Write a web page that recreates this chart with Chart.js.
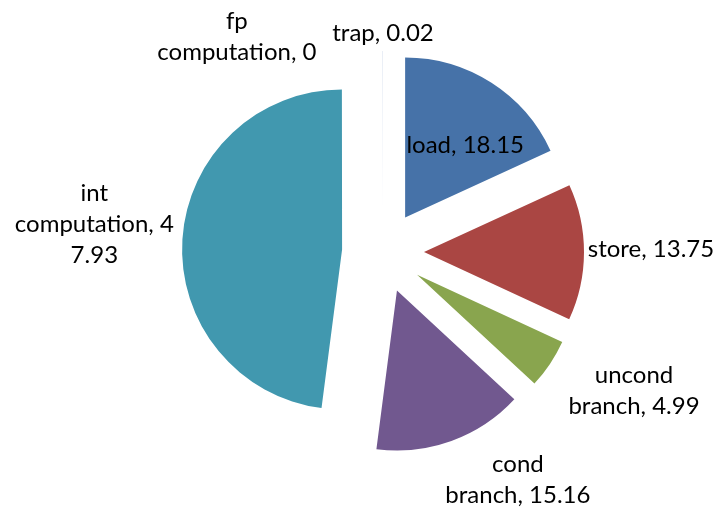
<!DOCTYPE html>
<html>
<head>
<meta charset="utf-8">
<script src="https://cdn.jsdelivr.net/npm/chart.js@4"></script>
<style>
    html, body { margin: 0; padding: 0; background: #fff; }
    #wrap { width: 719px; height: 510px; }
</style>
</head>
<body>
<div id="wrap"><canvas id="chart"></canvas></div>
<script>
const categories = ['load', 'store', 'uncond branch', 'cond branch', 'int computation', 'fp computation', 'trap']
const values = [18.15, 13.75, 4.99, 15.16, 47.93, 0, 0.02]
const colors = ['#4672A8', '#AA4643', '#89A54E', '#71588F', '#4198AF', '#DB843D', '#93A9CF']

// label lines, wrapped the way the original shows them
const labelLines = [
    ['load, 18.15'],
    ['store, 13.75'],
    ['uncond', 'branch, 4.99'],
    ['cond', 'branch, 15.16'],
    ['int', 'computation, 4', '7.93'],
    ['fp', 'computation, 0'],
    ['trap, 0.02'],
]
// where each label sits: [degrees clockwise from top, distance from pie centre]
const labelPlacement = [[37.5, 135], [89.4, 268], [119, 287], [149.4, 265], [275.5, 290], [325.8, 260], [0, 219]]

const EXPLODE = 41
const LINE_H = 31

// pull every slice out from the centre by a fixed distance
const explode = {
    id: 'explode',
    afterDatasetUpdate(chart, args) {
        args.meta.data.forEach(arc => {
            const mid = (arc.startAngle + arc.endAngle) / 2
            arc.x += Math.cos(mid) * EXPLODE
            arc.y += Math.sin(mid) * EXPLODE
        })
    }
}

const sliceLabels = {
    id: 'sliceLabels',
    afterDatasetsDraw(chart) {
        const { ctx, chartArea } = chart
        const cx = (chartArea.left + chartArea.right) / 2
        const cy = (chartArea.top + chartArea.bottom) / 2
        ctx.save()
        ctx.font = '24px Lato'
        ctx.fillStyle = '#000'
        ctx.textAlign = 'center'
        ctx.textBaseline = 'middle'
        labelLines.forEach((lines, i) => {
            const [deg, r] = labelPlacement[i]
            const a = deg * Math.PI / 180
            const x = cx + Math.sin(a) * r
            const y = cy - Math.cos(a) * r
            const top = y - (lines.length - 1) * LINE_H / 2
            lines.forEach((t, j) => ctx.fillText(t, x, top + j * LINE_H))
        })
        ctx.restore()
    }
}

new Chart(document.getElementById('chart'), {
    type: 'pie',
    data: {
        labels: categories,
        datasets: [{
            data: values,
            backgroundColor: colors,
            borderWidth: 0,
        }],
    },
    options: {
        responsive: true,
        maintainAspectRatio: false,
        animation: false,
        events: [],
        layout: { padding: { left: 223, right: 176, top: 92, bottom: 98 } },
        plugins: {
            legend: { display: false },
            tooltip: { enabled: false },
        },
    },
    plugins: [explode, sliceLabels],
})
</script>
</body>
</html>
